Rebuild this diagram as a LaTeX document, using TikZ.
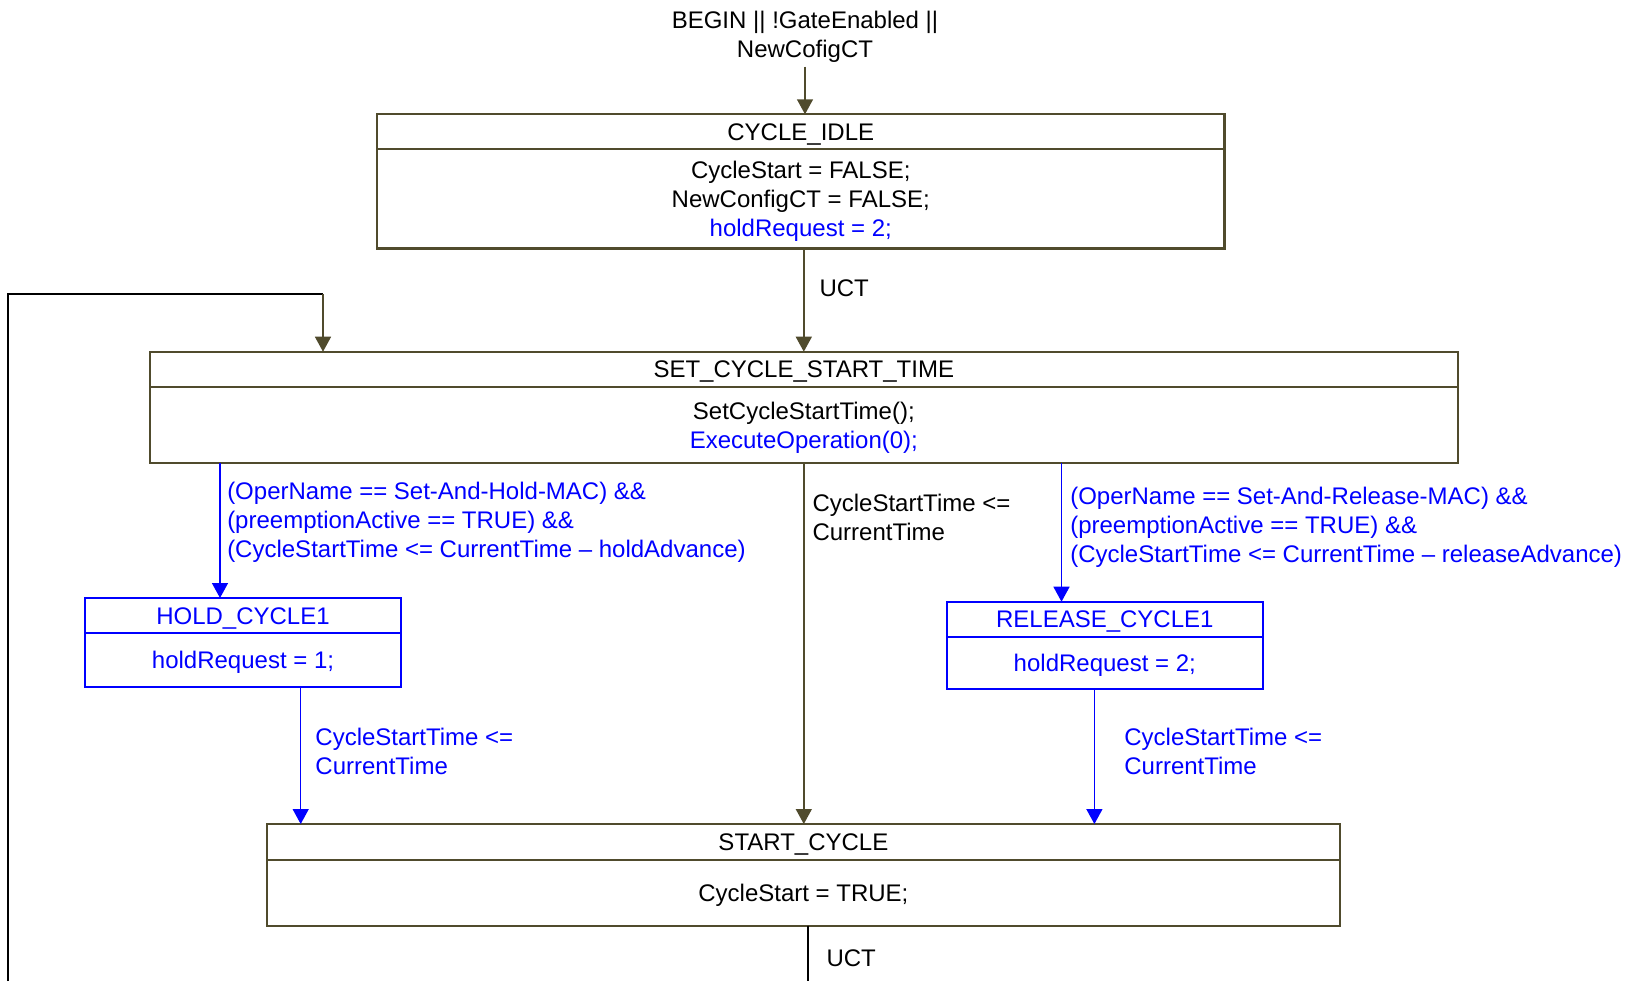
\documentclass[tikz,border=0pt]{standalone}
\usepackage{fontspec}
\setmainfont{Liberation Sans}
\usepackage{tikz}
\usetikzlibrary{arrows.meta}
\usetikzlibrary{positioning}
\definecolor{stateline}{RGB}{80,75,45}

\begin{document}
\begin{tikzpicture}[x=0.5pt, y=-0.5pt, font=\fontsize{12}{14.5}\selectfont,
        head_style/.style={rectangle,draw=stateline,line width=1.1pt,inner sep=0pt,outer sep=0pt,minimum height=17.5pt,text height=8.5pt,text depth=0pt},
        body_style/.style={rectangle,draw=stateline,line width=1.1pt,inner sep=0pt,outer sep=0pt,align=center,text depth=0pt},
        blue_head_style/.style={head_style,draw=blue,text=blue},
        blue_body_style/.style={body_style,draw=blue,text=blue},
        edge_style/.style={draw=stateline, line width=0.75pt, -{Triangle[length=7.5pt,width=8pt]}},
        blue_edge_style/.style={draw=blue, line width=0.75pt, -{Triangle[length=7.5pt,width=8pt]}},
        loop_style/.style={draw=black, line width=1pt},
        cond_style/.style={anchor=west, align=left, inner sep=2pt},
        blue_cond_style/.style={cond_style, text=blue}]

        \useasboundingbox (0,0) rectangle (1632,981);

        \node [align=center, inner sep=2pt](trigger) at (805,36.5) {BEGIN || !GateEnabled ||\\NewCofigCT};

        \node [head_style, minimum width=423.75pt](idle_head) at (800.75,131.75) {CYCLE\_IDLE};
        \node [body_style, minimum width=423.75pt, minimum height=49.65pt, below=0pt of idle_head](idle_body)
            {CycleStart = FALSE;\\NewConfigCT = FALSE;\\\textcolor{blue}{holdRequest = 2;}};

        \node [head_style, minimum width=654.2pt](set_head) at (803.8,369.2) {SET\_CYCLE\_START\_TIME};
        \node [body_style, minimum width=654.2pt, minimum height=38.3pt, below=0pt of set_head](set_body)
            {SetCycleStartTime();\\\textcolor{blue}{ExecuteOperation(0);}};

        \node [blue_head_style, minimum width=158pt](hold_head) at (243,615.5) {HOLD\_CYCLE1};
        \node [blue_body_style, minimum width=158pt, minimum height=27pt, below=0pt of hold_head](hold_body)
            {holdRequest = 1;};

        \node [blue_head_style, minimum width=157.8pt](release_head) at (1104.8,619.2) {RELEASE\_CYCLE1};
        \node [blue_body_style, minimum width=157.8pt, minimum height=26.15pt, below=0pt of release_head](release_body)
            {holdRequest = 2;};

        \node [head_style, minimum width=536.65pt, minimum height=18pt](start_head) at (803.4,842) {START\_CYCLE};
        \node [body_style, minimum width=536.65pt, minimum height=32.85pt, below=0pt of start_head](start_body)
            {CycleStart = TRUE;};

        \coordinate (loop_in) at (7.5,981);
        \coordinate (loop_top) at (323,294);
        \coordinate (uct_out) at (808,981);

        \draw [edge_style] (trigger.south) -- (trigger.south |- idle_head.north);

        \draw [edge_style] (idle_body.south -| set_head.north) -- node[cond_style, pos=0.38, xshift=5.5pt]{UCT} (set_head.north);

        \draw [edge_style] (set_body.south) -- node[cond_style, pos=0.15, xshift=2pt]{CycleStartTime <=\\CurrentTime} (set_body.south |- start_head.north);

        \draw [blue_edge_style] ([xshift=-11.5pt]hold_head.north |- set_body.south) -- node[blue_cond_style, pos=0.44, xshift=1.25pt]
            {(OperName == Set-And-Hold-MAC) \&\&\\(preemptionActive == TRUE) \&\&\\(CycleStartTime <= CurrentTime – holdAdvance)} ([xshift=-11.5pt]hold_head.north);

        \draw [blue_edge_style] ([xshift=-21.65pt]release_head.north |- set_body.south) -- node[blue_cond_style, pos=0.46, xshift=2pt]
            {(OperName == Set-And-Release-MAC) \&\&\\(preemptionActive == TRUE) \&\&\\(CycleStartTime <= CurrentTime – releaseAdvance)} ([xshift=-21.65pt]release_head.north);

        \draw [blue_edge_style] ([xshift=28.85pt]hold_body.south) -- node[blue_cond_style, pos=0.47, xshift=5pt]
            {CycleStartTime <=\\CurrentTime} ([xshift=28.85pt]hold_body.south |- start_head.north);

        \draw [blue_edge_style] ([xshift=-5.2pt]release_body.south) -- node[blue_cond_style, pos=0.46, xshift=12.6pt]
            {CycleStartTime <=\\CurrentTime} ([xshift=-5.2pt]release_body.south |- start_head.north);

        \draw [loop_style] (start_body.south -| uct_out) -- node[cond_style, pos=0.58, xshift=6.75pt]{UCT} (uct_out);

        \draw [loop_style] (loop_in) |- (loop_top);
        \draw [edge_style] (loop_top) -- (loop_top |- set_head.north);

\end{tikzpicture}
\end{document}
